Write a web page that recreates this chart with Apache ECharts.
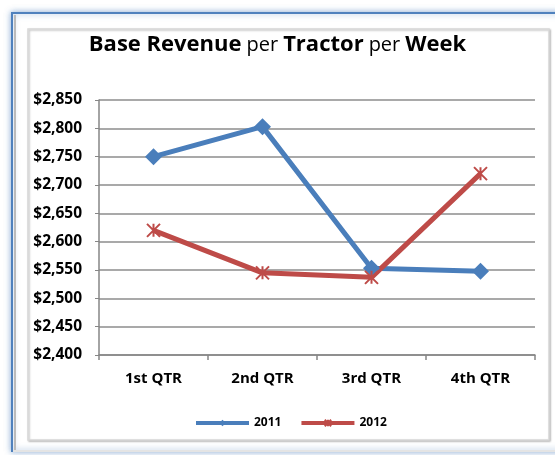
<!DOCTYPE html>
<html>
<head>
<meta charset="utf-8">
<script src="https://cdn.jsdelivr.net/npm/echarts@6/dist/echarts.min.js"></script>
<style>
    html,body{margin:0;padding:0;background:#fff;}
    #chart{width:555px;height:455px;}
</style>
</head>
<body>
<div id="chart"></div>
<script>
    // data
    var quarters = ['1st QTR', '2nd QTR', '3rd QTR', '4th QTR'];
    var rev2011 = [2750, 2803, 2553, 2548];
    var rev2012 = [2620, 2545, 2537, 2720];
    var yMin = 2400, yMax = 2850, yStep = 50;

    var font = '"Open Sans", "Liberation Sans", sans-serif';
    // excel style star marker: x with a vertical stroke
    var starPath = 'path://M0,0L10,10M10,0L0,10M5,0L5,10';

    var chart = echarts.init(document.getElementById('chart'));
    chart.setOption({
        animation: false,
        backgroundColor: '#fff',
        graphic: [
            // outer blue frame with glow
            {type: 'rect', shape: {x: 12, y: 13, width: 560, height: 438},
             style: {fill: '#fff', stroke: '#4f81bd', lineWidth: 2, shadowColor: 'rgba(79,129,189,0.6)', shadowBlur: 6}},
            {type: 'line', shape: {x1: 15, y1: 15, x2: 15, y2: 451}, style: {stroke: '#bbb', lineWidth: 2}},
            {type: 'line', shape: {x1: 13, y1: 451, x2: 555, y2: 451}, style: {stroke: '#e4e4e4', lineWidth: 2}},
            // inner chart area frame
            {type: 'rect', shape: {x: 28, y: 29, width: 521, height: 411},
             style: {fill: '#fff', stroke: '#d9d9d9', lineWidth: 1.5, shadowColor: 'rgba(0,0,0,0.25)', shadowBlur: 2, shadowOffsetX: 1, shadowOffsetY: 1}}
        ],
        title: {
            text: '{b|Base Revenue} {n|per} {b|Tractor} {n|per} {b|Week}',
            left: 'center',
            top: 29,
            textStyle: {
                rich: {
                    b: {fontFamily: font, fontWeight: 'bold', fontSize: 22, color: '#000'},
                    n: {fontFamily: font, fontWeight: 'normal', fontSize: 20, color: '#000'}
                }
            }
        },
        legend: {
            bottom: 21,
            left: 189,
            itemWidth: 53,
            itemHeight: 8,
            itemGap: 18,
            lineStyle: {width: 4},
            textStyle: {fontFamily: font, fontWeight: 'bold', fontSize: 12, color: '#000'},
            data: ['2011', '2012']
        },
        grid: {left: 99, right: 20, top: 100, bottom: 100, containLabel: false},
        xAxis: {
            type: 'category',
            data: quarters,
            boundaryGap: true,
            axisLine: {lineStyle: {color: '#868686', width: 1.5}},
            axisTick: {show: true, length: 5, lineStyle: {color: '#868686', width: 1.5}},
            axisLabel: {fontFamily: font, fontWeight: 'bold', fontSize: 15, color: '#000', margin: 16}
        },
        yAxis: {
            type: 'value',
            min: yMin,
            max: yMax,
            interval: yStep,
            axisLine: {show: true, lineStyle: {color: '#868686', width: 1.5}},
            axisTick: {show: true, length: 4, lineStyle: {color: '#868686'}},
            splitLine: {lineStyle: {color: '#8c8c8c', width: 1.5}},
            axisLabel: {
                fontFamily: font, fontWeight: 'bold', fontSize: 15.5, color: '#000', margin: 17,
                formatter: function(v){ return '$' + v.toLocaleString('en-US'); }
            }
        },
        series: [
            {
                name: '2011',
                type: 'line',
                data: rev2011,
                symbol: 'diamond',
                symbolSize: [17, 17],
                lineStyle: {color: '#4a7ebb', width: 5},
                itemStyle: {color: '#4a7ebb'}
            },
            {
                name: '2012',
                type: 'line',
                data: rev2012,
                symbol: starPath,
                symbolSize: 13,
                lineStyle: {color: '#be4b48', width: 5},
                itemStyle: {color: '#be4b48', borderColor: '#be4b48', borderWidth: 2}
            }
        ]
    });
</script>
</body>
</html>
